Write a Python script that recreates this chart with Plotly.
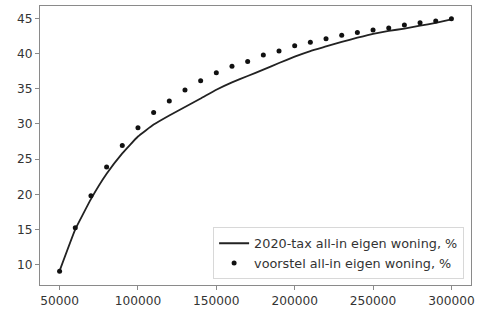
import plotly.graph_objects as go

income = [50000, 60000, 70000, 80000, 90000, 100000, 110000, 120000, 130000, 140000,
          150000, 160000, 170000, 180000, 190000, 200000, 210000, 220000, 230000, 240000,
          250000, 260000, 270000, 280000, 290000, 300000]

tax_2020 = [9.1, 15.0, 19.3, 22.9, 25.8, 28.2, 29.9, 31.2, 32.4, 33.6,
            34.85, 35.9, 36.8, 37.7, 38.65, 39.55, 40.35, 41.0, 41.65, 42.25,
            42.8, 43.2, 43.55, 43.95, 44.35, 44.85]

voorstel = [9.07, 15.24, 19.8, 23.86, 26.92, 29.46, 31.6, 33.25, 34.83, 36.14,
            37.27, 38.17, 38.87, 39.77, 40.34, 41.09, 41.6, 42.08, 42.6, 42.97,
            43.35, 43.63, 44.05, 44.38, 44.62, 44.94]

x_ticks = [50000, 100000, 150000, 200000, 250000, 300000]
y_ticks = [10, 15, 20, 25, 30, 35, 40, 45]

name_line = "2020-tax all-in eigen woning, %"
name_dots = "voorstel all-in eigen woning, %"

fig = go.Figure()
fig.add_trace(go.Scatter(x=income, y=tax_2020, mode="lines", name=name_line,
                         line=dict(color="#222222", width=1.8, shape="spline", smoothing=0.3)))
fig.add_trace(go.Scatter(x=income, y=voorstel, mode="markers", name=name_dots,
                         marker=dict(color="#111111", size=5)))

axis_common = dict(showline=True, linecolor="#8a8a8a", linewidth=1.3, mirror=True,
                   ticks="outside", ticklen=4, tickcolor="#8a8a8a", tickwidth=1,
                   showgrid=False, zeroline=False,
                   tickfont=dict(family="DejaVu Sans", size=12.2, color="#333333"))

fig.update_xaxes(range=[37500, 312500], tickvals=x_ticks,
                 ticktext=[str(v) for v in x_ticks], **axis_common)
fig.update_yaxes(range=[7.1, 46.75], tickvals=y_ticks,
                 ticktext=[str(v) for v in y_ticks], **axis_common)

fig.update_layout(
    width=481, height=313,
    margin=dict(l=40, r=10, t=5, b=27),
    paper_bgcolor="white", plot_bgcolor="white",
    font=dict(family="DejaVu Sans", color="#333333"),
    legend=dict(x=0.984, y=0.02, xanchor="right", yanchor="bottom",
                bgcolor="white", bordercolor="#d8d8d8", borderwidth=1,
                font=dict(family="DejaVu Sans", size=12.8, color="#333333"),
                itemwidth=30, tracegroupgap=0),
    showlegend=True,
)

fig.write_html("out.html", config={"displayModeBar": False},
               post_script="document.body.style.margin='0';")
